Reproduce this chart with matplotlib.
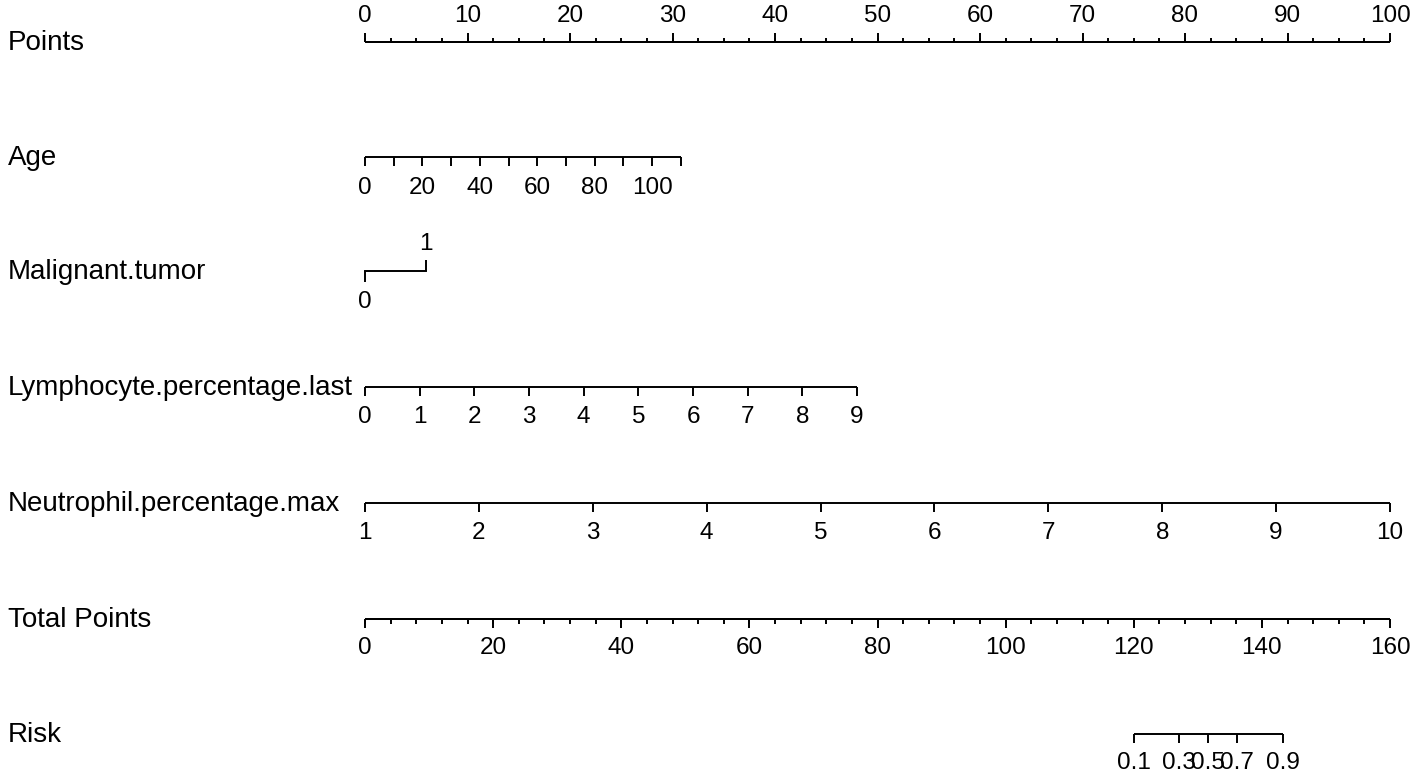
import numpy as np
import matplotlib
matplotlib.use("Agg")
import matplotlib.pyplot as plt

plt.rcParams['font.family'] = ['Liberation Sans', 'DejaVu Sans']

# nomogram data
row_names = ["Points", "Age", "Malignant.tumor", "Lymphocyte.percentage.last",
             "Neutrophil.percentage.max", "Total Points", "Risk"]

points_major = [0, 10, 20, 30, 40, 50, 60, 70, 80, 90, 100]
points_minor = list(np.arange(0, 100.1, 2.5))

age_values = [0, 10, 20, 30, 40, 50, 60, 70, 80, 90, 100, 110]
age_labels = [0, 20, 40, 60, 80, 100]
age_points_max = 30.8          # points at age 110

tumor_values = [0, 1]
tumor_points = [0, 5.95]

lymph_values = [0, 1, 2, 3, 4, 5, 6, 7, 8, 9]
lymph_points_max = 48.0        # points at 9

neutro_values = [1, 2, 3, 4, 5, 6, 7, 8, 9, 10]
neutro_points_max = 100.0      # points at 10

total_major = [0, 20, 40, 60, 80, 100, 120, 140, 160]
total_minor = list(range(0, 161, 4))
total_max = 160

risk_values = ["0.1", "0.3", "0.5", "0.7", "0.9"]
risk_total = [120.0, 127.1, 131.6, 136.1, 143.3]

W, H = 1416, 778
fig = plt.figure(figsize=(W / 100, H / 100), dpi=100)
x0, x1 = 365, 1390
ax = fig.add_axes([x0 / W, 0, (x1 - x0) / W, 1])
ax.set_xlim(0, 100)
ax.set_ylim(H, 0)
ax.axis('off')

lw = 1.4
fs_tick = 17.5
fs_name = 20

row_y = [42, 157, 271, 387, 503, 619, 734]


def scale_row(y, pos, tick_len, direction=1, color='black'):
    # direction=1 -> ticks down, -1 -> ticks up
    ax.plot([min(pos), max(pos)], [y, y], color=color, lw=lw,
            solid_capstyle='butt', clip_on=False)
    ax.vlines(pos, y, y + direction * tick_len, color=color, lw=lw, clip_on=False)


def tick_text(xs, texts, y):
    for xv, t in zip(xs, texts):
        ax.text(xv, y, str(t), ha='center', va='center', fontsize=fs_tick, clip_on=False)


# Points
y = row_y[0]
scale_row(y, points_minor, 4.5, -1)
scale_row(y, points_major, 9, -1)
tick_text(points_major, points_major, 16)

# Age
y = row_y[1]
age_pts = [v / max(age_values) * age_points_max for v in age_values]
scale_row(y, age_pts, 9, 1)
tick_text([v / max(age_values) * age_points_max for v in age_labels], age_labels, 188)

# Malignant.tumor
y = row_y[2]
ax.plot(tumor_points, [y, y], color='black', lw=lw, clip_on=False)
ax.vlines(tumor_points[0], y, y + 11, color='black', lw=lw, clip_on=False)
ax.vlines(tumor_points[1], y, y - 11, color='black', lw=lw, clip_on=False)
tick_text([tumor_points[0]], [tumor_values[0]], 302)
tick_text([tumor_points[1]], [tumor_values[1]], 244)

# Lymphocyte.percentage.last
y = row_y[3]
lymph_pts = [v / max(lymph_values) * lymph_points_max for v in lymph_values]
scale_row(y, lymph_pts, 9, 1)
tick_text(lymph_pts, lymph_values, 417)

# Neutrophil.percentage.max
y = row_y[4]
neutro_pts = [(v - min(neutro_values)) / (max(neutro_values) - min(neutro_values))
              * neutro_points_max for v in neutro_values]
scale_row(y, neutro_pts, 9, 1)
tick_text(neutro_pts, neutro_values, 533)

# Total Points
y = row_y[5]
scale_row(y, [v / total_max * 100 for v in total_minor], 4.5, 1)
scale_row(y, [v / total_max * 100 for v in total_major], 9, 1)
tick_text([v / total_max * 100 for v in total_major], total_major, 648)

# Risk
y = row_y[6]
risk_pts = [v / total_max * 100 for v in risk_total]
scale_row(y, risk_pts, 9, 1)
tick_text(risk_pts, risk_values, 763)

# row names
for name, yy in zip(row_names, row_y):
    fig.text(8 / W, 1 - (yy + 1) / H, name, ha='left', va='center', fontsize=fs_name)

fig.savefig("out.png", dpi=100, facecolor='white')
